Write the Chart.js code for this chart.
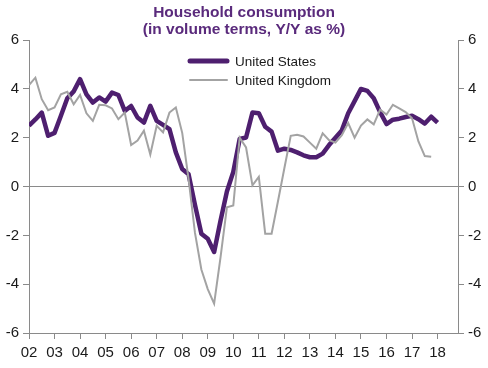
<!DOCTYPE html>
<html>
<head>
<meta charset="utf-8">
<script src="https://cdn.jsdelivr.net/npm/chart.js@4.4.1/dist/chart.umd.min.js"></script>
<style>
  html, body { margin: 0; padding: 0; background: #fff; }
  #wrap { position: relative; width: 488px; height: 368px; }
</style>
</head>
<body>
<div id="wrap"><canvas id="chartCons"></canvas></div>
<script>
// Household consumption, Y/Y %, quarterly from 2002Q1

const firstYear  = 2002;
const yearLabels = ['02','03','04','05','06','07','08','09','10','11','12','13','14','15','16','17','18'];
const seriesNames = ['United States', 'United Kingdom'];

const usGrowth = [
  2.49, 2.75, 3.03, 2.08,   // 2002
  2.20, 2.90, 3.62, 3.90,   // 2003
  4.40, 3.78, 3.44, 3.65,   // 2004
  3.48, 3.85, 3.75, 3.10,   // 2005
  3.30, 2.83, 2.62, 3.31,   // 2006
  2.69, 2.53, 2.35, 1.40,   // 2007
  0.72, 0.50, -0.75, -1.93, // 2008
  -2.14, -2.68, -1.40, -0.20, // 2009
  0.60, 1.95, 2.01, 3.03,   // 2010
  3.00, 2.45, 2.25, 1.47,   // 2011
  1.55, 1.50, 1.40, 1.28,   // 2012
  1.20, 1.20, 1.35, 1.70,   // 2013
  2.00, 2.30, 3.00, 3.50,   // 2014
  4.00, 3.92, 3.62, 3.05,   // 2015
  2.56, 2.74, 2.78, 2.85,   // 2016
  2.90, 2.76, 2.58, 2.86,   // 2017
  2.62                      // 2018
];

const ukGrowth = [
  4.16, 4.46, 3.58, 3.13,   // 2002
  3.24, 3.78, 3.88, 3.37,   // 2003
  3.75, 3.00, 2.69, 3.35,   // 2004
  3.33, 3.20, 2.76, 3.03,   // 2005
  1.70, 1.88, 2.29, 1.31,   // 2006
  2.49, 2.22, 3.03, 3.24,   // 2007
  2.20, 0.30, -1.90, -3.40, // 2008
  -4.20, -4.80, -2.90, -0.85, // 2009
  -0.78, 2.00, 1.60, 0.05,  // 2010
  0.40, -1.93, -1.93, -0.60, // 2011
  0.75, 2.08, 2.12, 2.05,   // 2012
  1.80, 1.55, 2.18, 1.90,   // 2013
  1.80, 2.10, 2.60, 2.00,   // 2014
  2.50, 2.75, 2.55, 3.15,   // 2015
  2.95, 3.35, 3.20, 3.05,   // 2016
  2.80, 1.85, 1.25, 1.22    // 2017
];

const US_PURPLE = '#4e1f6f';
const UK_GREY   = '#a3a3a3';
const AXIS_GREY = '#8a8a8a';
const FONT      = '"Liberation Sans", Arial, sans-serif';

function toPoints(vals) {
  return vals.map((v, i) => ({ x: firstYear + i / 4, y: v }));
}

// --- legend drawn inside the plot, Excel style ---
const insideLegend = {
  id: 'insideLegend',
  afterDraw(chart) {
    const ctx = chart.ctx;
    const items = [
      { label: seriesNames[0], color: US_PURPLE, width: 5, y: 61 },
      { label: seriesNames[1], color: UK_GREY,   width: 2, y: 80 },
    ];
    ctx.save();
    ctx.font = '13.5px ' + FONT;
    ctx.textBaseline = 'middle';
    items.forEach(it => {
      ctx.beginPath();
      ctx.strokeStyle = it.color;
      ctx.lineWidth = it.width;
      ctx.lineCap = 'round';
      ctx.moveTo(190, it.y);
      ctx.lineTo(227, it.y);
      ctx.stroke();
      ctx.fillStyle = '#1a1a1a';
      ctx.fillText(it.label, 235, it.y + 1);
    });
    ctx.restore();
  }
};

const tickFont = { family: FONT, size: 15 };

function yAxis(pos, zeroLine) {
  return {
    position: pos,
    min: -6, max: 6,
    ticks: { stepSize: 2, color: '#1a1a1a', font: tickFont, padding: 4 },
    border: { display: true, color: AXIS_GREY },
    grid: {
      drawOnChartArea: zeroLine,
      color: ctx => (ctx.tick && ctx.tick.value === 0) ? AXIS_GREY : 'rgba(0,0,0,0)',
      tickColor: AXIS_GREY,
      tickLength: 6,
    },
    afterFit: s => { s.width = pos === 'left' ? 29 : 30; },
  };
}

new Chart(document.getElementById('chartCons'), {
  type: 'line',
  data: {
    datasets: [
      {
        label: seriesNames[0],
        data: toPoints(usGrowth),
        borderColor: US_PURPLE,
        borderWidth: 4.5,
        borderJoinStyle: 'round',
        pointRadius: 0,
        tension: 0,
        order: 1,
        yAxisID: 'y',
      },
      {
        label: seriesNames[1],
        data: toPoints(ukGrowth),
        borderColor: UK_GREY,
        borderWidth: 2,
        pointRadius: 0,
        tension: 0,
        order: 0,
        yAxisID: 'y',
      },
    ],
  },
  options: {
    responsive: true,
    maintainAspectRatio: false,
    animation: false,
    layout: { padding: { left: 0, right: 0, top: 0, bottom: 0 } },
    plugins: {
      legend: { display: false },
      tooltip: { enabled: false },
      title: {
        display: true,
        text: ['Household consumption', '(in volume terms, Y/Y as %)'],
        color: '#5a2a7c',
        font: { family: FONT, size: 15.5, weight: 'bold', lineHeight: 1.1 },
        padding: { top: 4, bottom: 2 },
      },
    },
    scales: {
      x: {
        type: 'linear',
        min: firstYear,
        max: 2018.8,
        afterBuildTicks: axis => {
          axis.ticks = yearLabels.map((_, i) => ({ value: firstYear + i }));
        },
        ticks: {
          color: '#1a1a1a',
          font: tickFont,
          padding: 5,
          maxRotation: 0,
          autoSkip: false,
          callback: (v, i) => yearLabels[i],
        },
        border: { display: true, color: AXIS_GREY },
        grid: { drawOnChartArea: false, tickColor: AXIS_GREY, tickLength: 6 },
        afterFit: s => { s.height = 35; },
      },
      y:  yAxis('left', true),
      y1: yAxis('right', false),
    },
  },
  plugins: [insideLegend],
});
</script>
</body>
</html>
